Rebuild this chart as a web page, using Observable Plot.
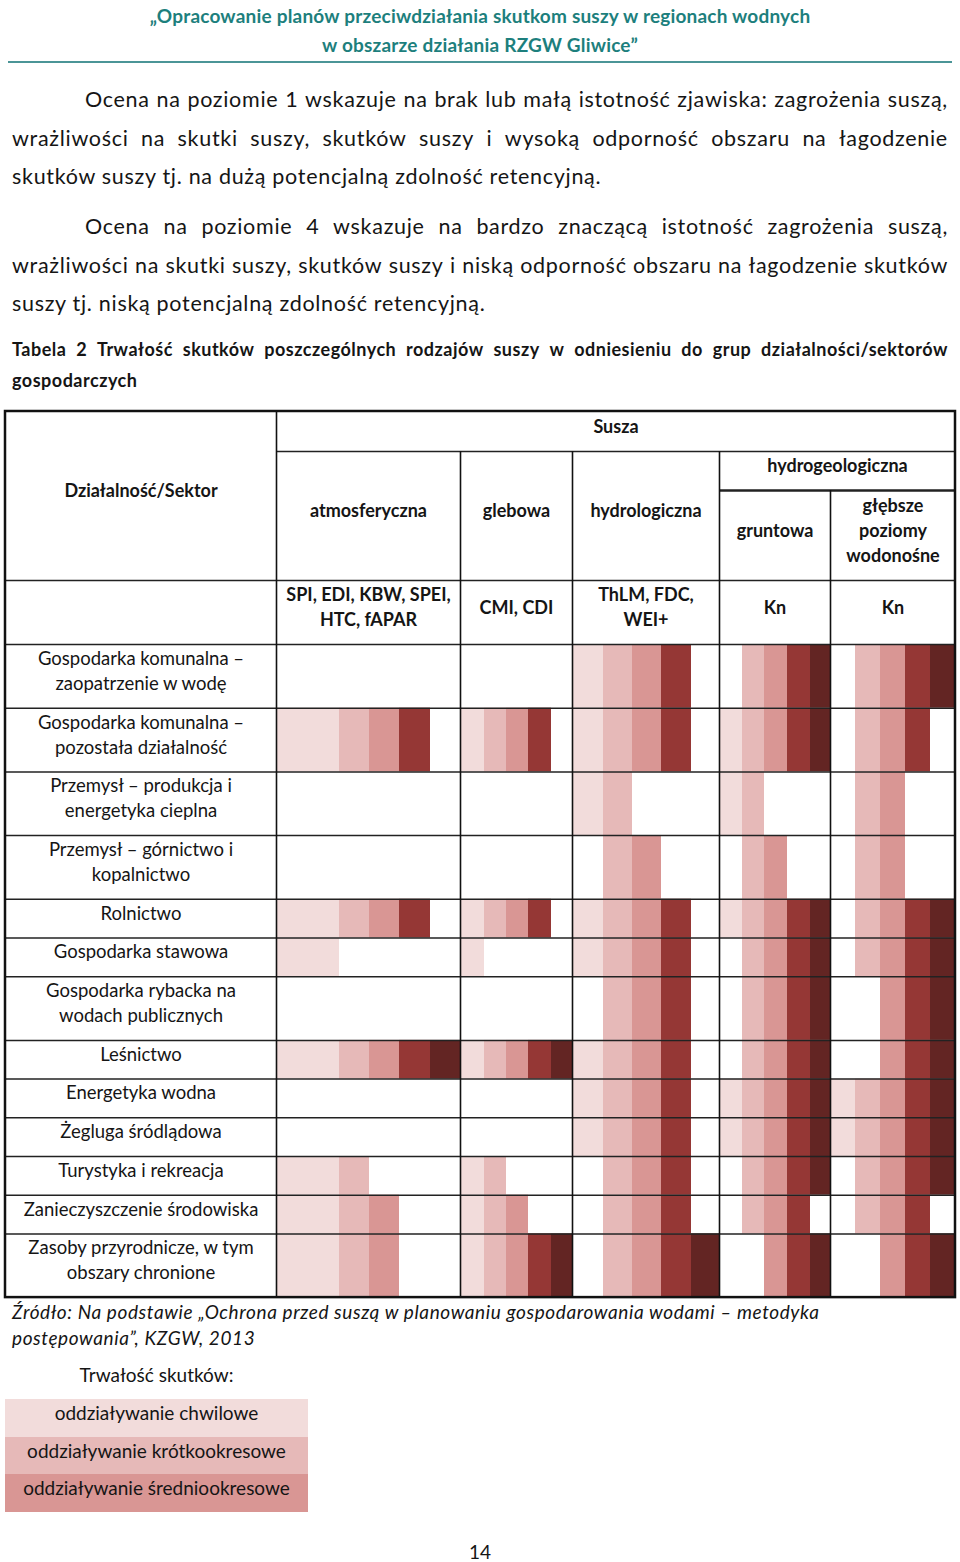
<!DOCTYPE html>
<html><head><meta charset="utf-8">
<script src="https://cdn.jsdelivr.net/npm/d3@7"></script>
<script src="https://cdn.jsdelivr.net/npm/@observablehq/plot@0.6"></script>
<style>
body{margin:0;background:#fff;}
#page{position:relative;width:960px;height:1562px;overflow:hidden;font-family:Lato,"Open Sans",sans-serif;color:#151515;}
.ln{position:absolute;white-space:nowrap;}
.just{display:flex;justify-content:space-between;}
#table{position:absolute;left:0;top:400px;}
</style></head><body><div id="page"></div>
<script>
// ---------------- DATA ----------------
const headerLines = ["„Opracowanie planów przeciwdziałania skutkom suszy w regionach wodnych", "w obszarze działania RZGW Gliwice”"];
const paragraph1 = ["Ocena na poziomie 1 wskazuje na brak lub małą istotność zjawiska: zagrożenia suszą,", "wrażliwości na skutki suszy, skutków suszy i wysoką odporność obszaru na łagodzenie", "skutków suszy tj. na dużą potencjalną zdolność retencyjną."];
const paragraph2 = ["Ocena na poziomie 4 wskazuje na bardzo znaczącą istotność zagrożenia suszą,", "wrażliwości na skutki suszy, skutków suszy i niską odporność obszaru na łagodzenie skutków", "suszy tj. niską potencjalną zdolność retencyjną."];
const captionLines = ["Tabela 2 Trwałość skutków poszczególnych rodzajów suszy w odniesieniu do grup działalności/sektorów", "gospodarczych"];
const sourceLines = ["Źródło: Na podstawie „Ochrona przed suszą w planowaniu gospodarowania wodami – metodyka", "postępowania”, KZGW, 2013"];

const sectorHeader = "Działalność/Sektor";
const droughtGroup = "Susza";
const hydrogeoGroup = "hydrogeologiczna";
const droughtTypes = ["atmosferyczna", "glebowa", "hydrologiczna", "gruntowa", "głębsze\npoziomy\nwodonośne"];
const indicators = ["SPI, EDI, KBW, SPEI,\nHTC, fAPAR", "CMI, CDI", "ThLM, FDC,\nWEI+", "Kn", "Kn"];
const sectors = [
  "Gospodarka komunalna –\nzaopatrzenie w wodę",
  "Gospodarka komunalna –\npozostała działalność",
  "Przemysł – produkcja i\nenergetyka cieplna",
  "Przemysł – górnictwo i\nkopalnictwo",
  "Rolnictwo",
  "Gospodarka stawowa",
  "Gospodarka rybacka na\nwodach publicznych",
  "Leśnictwo",
  "Energetyka wodna",
  "Żegluga śródlądowa",
  "Turystyka i rekreacja",
  "Zanieczyszczenie środowiska",
  "Zasoby przyrodnicze, w tym\nobszary chronione"
];
// persistence levels 1..5 present (1) or absent (0), one string per sector
const atmosferyczna = ["00000","11110","00000","00000","11110","10000","00000","11111","00000","00000","11000","11100","11100"];
const glebowa       = ["00000","11110","00000","00000","11110","10000","00000","11111","00000","00000","11000","11100","11111"];
const hydrologiczna = ["11110","11110","11000","01100","11110","11110","01110","11110","11110","11110","01110","01110","01111"];
const gruntowa      = ["01111","11111","11000","01100","11111","01111","01111","01111","11111","11111","01111","01110","00111"];
const glebsze       = ["01111","01110","01100","01100","01111","01111","00111","00111","11111","11111","01111","01110","00111"];
const levels = [1, 2, 3, 4, 5];
const legendTitle = "Trwałość skutków:";
const legendLabels = ["oddziaływanie chwilowe", "oddziaływanie krótkookresowe", "oddziaływanie średniookresowe"];
const pageNumber = "14";

// ---------------- STYLE / LAYOUT ----------------
const levelColors = ["#f2dcdb", "#e6b9b8", "#d99694", "#953735", "#632523"];
const teal = "#1d7f7d";
const layout = {
  top: 11, headerRows: [40, 39, 90, 64],
  lineRow: 38.7, twoLineRow: 63.7,
  left: 5, labelWidth: 271,
  colWidths: [184, 112, 147, 111, 125],
  stripeWidths: [[63,30,30,31,30],[24,22,22,23,21],[31,29,29,30,28],[23,22,23,23,20],[25,25,25,25,25]]
};

// ---------------- HTML TEXT ----------------
const pageEl = document.getElementById("page");
function line(text, o) {
  const d = document.createElement("div");
  d.className = "ln" + (o.justify ? " just" : "");
  Object.assign(d.style, {
    top: o.top + "px", left: o.left + "px", width: o.width + "px",
    fontSize: o.size + "px", lineHeight: o.lh + "px",
    fontWeight: o.weight || 400, fontStyle: o.style || "normal",
    letterSpacing: (o.ls || 0) + "px",
    color: o.color || "#151515", textAlign: o.align || "left"
  });
  if (o.justify) text.split(" ").forEach(w => { const s = document.createElement("span"); s.textContent = w; d.appendChild(s); });
  else d.textContent = text;
  pageEl.appendChild(d);
  return d;
}
headerLines.forEach((t, i) => line(t, {top: 1 + i * 29, left: 0, width: 960, size: 19, ls: 0.2, lh: 29, weight: 700, color: teal, align: "center"}));
const rule = document.createElement("div");
Object.assign(rule.style, {position: "absolute", left: "8px", width: "944px", top: "61px", height: "2px", background: "#4b9597"});
pageEl.appendChild(rule);

function para(lines, y0) {
  lines.forEach((t, i) => line(t, {top: y0 + i * 38.5, left: i === 0 ? 85 : 12, width: i === 0 ? 863 : 936, size: 21.5, ls: 0.7, lh: 38.5, justify: i < lines.length - 1}));
}
para(paragraph1, 80);
para(paragraph2, 207);
captionLines.forEach((t, i) => line(t, {top: 334 + i * 31, left: 12, width: 936, size: 18, ls: 0.5, lh: 31, weight: 700, justify: i === 0}));
sourceLines.forEach((t, i) => line(t, {top: 1299 + i * 26, left: 12, width: 940, size: 19, ls: 0.6, lh: 26, style: "italic"}));
line(legendTitle, {top: 1362, left: 5, width: 303, size: 19, lh: 26, align: "center"});
legendLabels.forEach((t, i) => {
  const d = line(t, {top: 1399 + i * 37.5, left: 5, width: 303, size: 19, lh: 28, align: "center"});
  d.style.height = "37.5px"; d.style.background = levelColors[i];
});
line(pageNumber, {top: 1539, left: 0, width: 960, size: 19, lh: 26, align: "center"});

// ---------------- TABLE (Observable Plot) ----------------
const H = 900;
const headerEdges = Array.from(d3.cumsum([layout.top, ...layout.headerRows]));
const rowHeights = sectors.map(s => s.includes("\n") ? layout.twoLineRow : layout.lineRow);
const rowEdges = Array.from(d3.cumsum([headerEdges[4], ...rowHeights]));
const colEdges = Array.from(d3.cumsum([layout.left + layout.labelWidth, ...layout.colWidths]));
const stripeEdges = layout.stripeWidths.map((ws, j) => Array.from(d3.cumsum([colEdges[j], ...ws])));
const tLeft = layout.left, tRight = colEdges[5], tTop = layout.top, tBottom = rowEdges[rowEdges.length - 1];

const series = [atmosferyczna, glebowa, hydrologiczna, gruntowa, glebsze];
const cells = [];
series.forEach((ser, j) => ser.forEach((pattern, i) => [...pattern].forEach((c, k) => {
  if (c === "1") cells.push({sector: sectors[i], type: droughtTypes[j], level: levels[k],
    x1: stripeEdges[j][k], x2: stripeEdges[j][k + 1], y1: rowEdges[i], y2: rowEdges[i + 1]});
})));

const hLines = [
  {y: headerEdges[1], x1: colEdges[0], x2: tRight, w: 1.5},
  {y: headerEdges[2], x1: colEdges[3], x2: tRight, w: 2.5},
  {y: headerEdges[3], x1: tLeft, x2: tRight, w: 1.5},
  ...rowEdges.slice(0, -1).map(y => ({y, x1: tLeft, x2: tRight, w: 1.5}))
];
const vLines = [
  {x: colEdges[0], y1: tTop, y2: tBottom},
  {x: colEdges[1], y1: headerEdges[1], y2: tBottom},
  {x: colEdges[2], y1: headerEdges[1], y2: tBottom},
  {x: colEdges[3], y1: headerEdges[1], y2: tBottom},
  {x: colEdges[4], y1: headerEdges[2], y2: tBottom}
];
const mid = (a, b) => (a + b) / 2;
const headerTexts = [
  {text: sectorHeader, x: mid(tLeft, colEdges[0]), y: mid(tTop, headerEdges[3])},
  {text: droughtGroup, x: mid(colEdges[0], tRight), y: mid(tTop, headerEdges[1])},
  {text: hydrogeoGroup, x: mid(colEdges[3], tRight), y: mid(headerEdges[1], headerEdges[2])},
  ...droughtTypes.map((t, j) => ({text: t, x: mid(colEdges[j], colEdges[j + 1]),
     y: j < 3 ? mid(headerEdges[1], headerEdges[3]) : mid(headerEdges[2], headerEdges[3])})),
  ...indicators.map((t, j) => ({text: t, x: mid(colEdges[j], colEdges[j + 1]), y: mid(headerEdges[3], headerEdges[4])}))
];
const rowTexts = sectors.map((s, i) => ({text: s, x: mid(tLeft, colEdges[0]), y: mid(rowEdges[i], rowEdges[i + 1])}));

const chart = Plot.plot({
  width: 960, height: H, margin: 0,
  x: {domain: [0, 960], range: [0, 960], axis: null},
  y: {domain: [0, H], range: [0, H], axis: null},
  color: {type: "ordinal", domain: levels, range: levelColors},
  style: {fontFamily: "Lato, 'Open Sans', sans-serif", background: "white"},
  marks: [
    Plot.rect(cells, {x1: "x1", x2: "x2", y1: "y1", y2: "y2", fill: "level"}),
    Plot.ruleY(hLines, {y: "y", x1: "x1", x2: "x2", stroke: "#222", strokeWidth: "w"}),
    Plot.ruleX(vLines, {x: "x", y1: "y1", y2: "y2", stroke: "#111", strokeWidth: 1.6}),
    Plot.rect([{x1: tLeft, x2: tRight, y1: tTop, y2: tBottom}], {x1: "x1", x2: "x2", y1: "y1", y2: "y2", fill: "none", stroke: "#111", strokeWidth: 2.5}),
    Plot.text(headerTexts, {x: "x", y: "y", text: "text", dy: -7, fontSize: 18, fontWeight: "bold", lineHeight: 1.39, fill: "#151515"}),
    Plot.text(rowTexts, {x: "x", y: "y", text: "text", dy: -7, fontSize: 18.5, lineHeight: 1.35, fill: "#151515"})
  ]
});
chart.id = "table";
pageEl.appendChild(chart);
</script></body></html>
